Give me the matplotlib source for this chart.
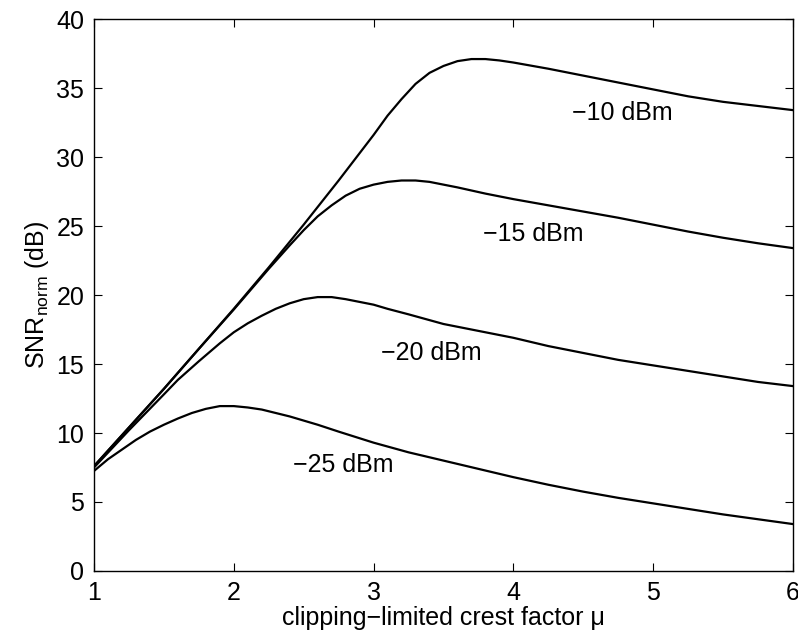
import matplotlib
matplotlib.use("Agg")
import matplotlib.pyplot as plt

plt.rcParams['font.family'] = ['Liberation Sans', 'DejaVu Sans']
plt.rcParams['mathtext.fontset'] = 'custom'
plt.rcParams['mathtext.rm'] = 'Liberation Sans'

# values (crest factor mu, SNR in dB)
mu_10 = [1, 1.25, 1.5, 1.75, 2, 2.25, 2.5, 2.75, 3, 3.1, 3.2, 3.3, 3.4, 3.5,
         3.6, 3.7, 3.8, 3.9, 4, 4.25, 4.5, 4.75, 5, 5.25, 5.5, 5.75, 6]
snr_10 = [7.6, 10.4, 13.2, 16.1, 19.0, 22.0, 25.1, 28.3, 31.6, 33.0, 34.2, 35.3,
          36.1, 36.6, 36.95, 37.1, 37.1, 37.0, 36.85, 36.4, 35.9, 35.4, 34.9,
          34.4, 34.0, 33.7, 33.4]

mu_15 = [1, 1.25, 1.5, 1.75, 2, 2.25, 2.4, 2.5, 2.6, 2.7, 2.8, 2.9, 3, 3.1,
         3.2, 3.3, 3.4, 3.6, 3.8, 4, 4.25, 4.5, 4.75, 5, 5.25, 5.5, 5.75, 6]
snr_15 = [7.6, 10.4, 13.2, 16.1, 18.95, 21.9, 23.6, 24.7, 25.7, 26.5, 27.2, 27.7,
          28.0, 28.2, 28.3, 28.3, 28.2, 27.8, 27.35, 26.95, 26.5, 26.05, 25.6,
          25.1, 24.6, 24.15, 23.75, 23.4]

mu_20 = [1, 1.25, 1.5, 1.6, 1.75, 1.9, 2, 2.1, 2.2, 2.3, 2.4, 2.5, 2.6, 2.7,
         2.8, 2.9, 3, 3.1, 3.25, 3.5, 3.75, 4, 4.25, 4.5, 4.75, 5, 5.25, 5.5,
         5.75, 6]
snr_20 = [7.5, 10.2, 12.8, 13.85, 15.2, 16.5, 17.3, 17.95, 18.5, 19.0, 19.4, 19.7,
          19.85, 19.85, 19.7, 19.5, 19.3, 19.0, 18.6, 17.9, 17.4, 16.9, 16.3,
          15.8, 15.3, 14.9, 14.5, 14.1, 13.7, 13.4]

mu_25 = [1, 1.1, 1.2, 1.3, 1.4, 1.5, 1.6, 1.7, 1.8, 1.9, 2, 2.1, 2.2, 2.3, 2.4,
         2.5, 2.6, 2.75, 3, 3.25, 3.5, 3.75, 4, 4.25, 4.5, 4.75, 5, 5.25, 5.5,
         5.75, 6]
snr_25 = [7.25, 8.1, 8.8, 9.5, 10.1, 10.6, 11.05, 11.45, 11.75, 11.95, 11.95,
          11.85, 11.7, 11.45, 11.2, 10.9, 10.6, 10.1, 9.3, 8.6, 8.0, 7.4, 6.8,
          6.25, 5.75, 5.3, 4.9, 4.5, 4.1, 3.75, 3.4]

labels = ['\u221210 dBm', '\u221215 dBm', '\u221220 dBm', '\u221225 dBm']
label_pos = [(4.78, 33.2), (4.14, 24.4), (3.41, 15.8), (2.78, 7.7)]

fig = plt.figure(figsize=(7.98, 6.35), dpi=100)
ax = fig.add_axes([0.1178, 0.1008, 0.9937 - 0.1178, 0.970 - 0.1008])

for mu, snr in [(mu_10, snr_10), (mu_15, snr_15), (mu_20, snr_20), (mu_25, snr_25)]:
    ax.plot(mu, snr, color='black', linewidth=1.6)

for txt, (x, y) in zip(labels, label_pos):
    ax.text(x, y, txt, fontsize=18, ha='center', va='center')

ax.set_xlim(1, 6)
ax.set_ylim(0, 40)
ax.set_xticks([1, 2, 3, 4, 5, 6])
ax.set_yticks(range(0, 41, 5))
ax.tick_params(direction='in', top=True, right=True, length=6, width=0.8,
               labelsize=18, pad=7)
for s in ax.spines.values():
    s.set_linewidth(1.0)

ax.set_xlabel('clipping\u2212limited crest factor \u03bc', fontsize=18, labelpad=1)
ax.set_ylabel(r'SNR$_{\mathregular{norm}}$ (dB)', fontsize=18, labelpad=4)

fig.savefig('out.png', dpi=100)
